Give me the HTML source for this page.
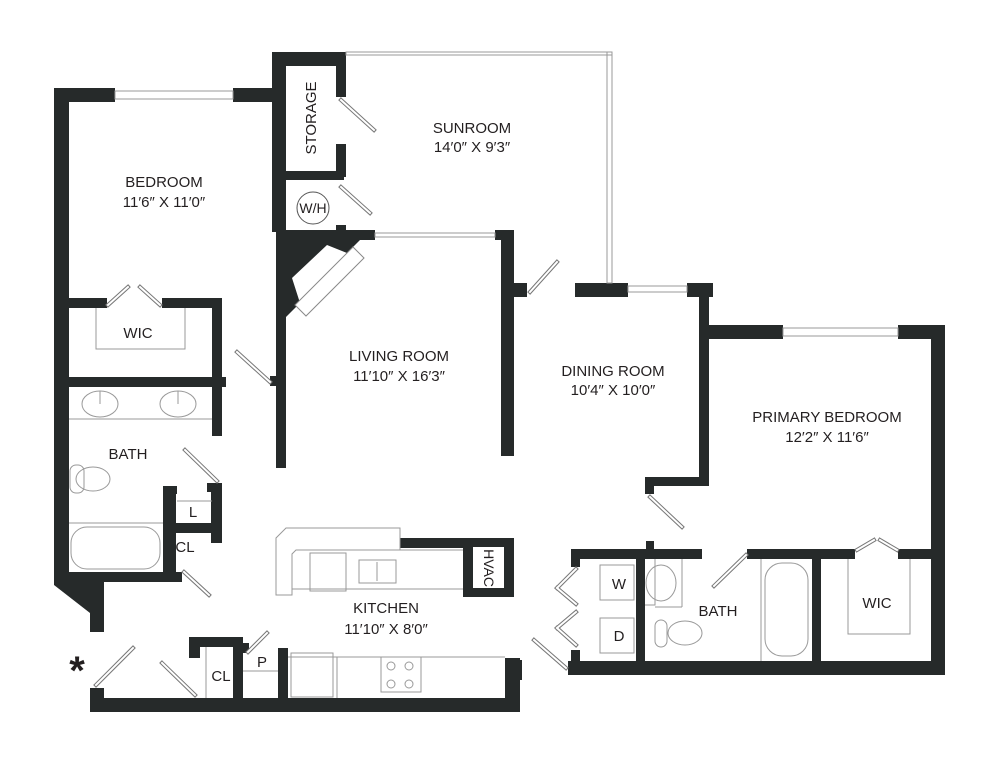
<!DOCTYPE html>
<html><head><meta charset="utf-8"><style>
html,body{margin:0;padding:0;background:#fff}
svg{display:block}
text{font-family:"Liberation Sans",sans-serif;font-size:15px;fill:#231f20;text-anchor:middle}
</style></head><body>
<svg width="1000" height="767" viewBox="0 0 1000 767" xmlns="http://www.w3.org/2000/svg">
<g fill="#262a2a">
<rect x="54" y="88" width="15" height="497"/>
<rect x="54" y="88" width="61" height="14"/>
<rect x="233" y="88" width="44" height="14"/>
<polygon points="54,580 104,580 104,632 90,632 90,613 54,585"/>
<rect x="272" y="52" width="74" height="14"/>
<rect x="272" y="52" width="14" height="180"/>
<rect x="276" y="52" width="10" height="416"/>
<rect x="336" y="52" width="10" height="45"/>
<rect x="336" y="144" width="10" height="33"/>
<rect x="286" y="171" width="58" height="9"/>
<rect x="336" y="225" width="10" height="8"/>
<rect x="286" y="230" width="89" height="10"/>
<polygon points="286,240 360,240 347,253 327,245 292,278 300,303 286,317"/>
<rect x="495" y="230" width="18" height="10"/>
<rect x="501" y="230" width="13" height="226"/>
<rect x="513" y="283" width="14" height="14"/>
<rect x="54" y="298" width="53" height="10"/>
<rect x="162" y="298" width="60" height="10"/>
<rect x="212" y="298" width="10" height="89"/>
<rect x="54" y="377" width="172" height="10"/>
<rect x="212" y="377" width="10" height="59"/>
<rect x="270" y="376" width="8" height="10"/>
<rect x="211" y="483" width="11" height="60"/>
<rect x="207" y="483" width="15" height="9"/>
<rect x="163" y="486" width="13" height="94"/>
<rect x="163" y="486" width="14" height="8"/>
<rect x="163" y="523" width="55" height="10"/>
<rect x="54" y="572" width="128" height="10"/>
<rect x="400" y="538" width="114" height="10"/>
<rect x="463" y="538" width="51" height="59"/>
<rect x="90" y="698" width="430" height="14"/>
<rect x="90" y="688" width="14" height="24"/>
<rect x="189" y="637" width="54" height="10"/>
<rect x="189" y="637" width="11" height="21"/>
<rect x="233" y="637" width="10" height="75"/>
<rect x="243" y="643" width="6" height="10"/>
<rect x="278" y="648" width="10" height="64"/>
<rect x="505" y="658" width="15" height="54"/>
<rect x="515" y="660" width="7" height="20"/>
<rect x="575" y="283" width="53" height="14"/>
<rect x="687" y="283" width="26" height="14"/>
<rect x="699" y="283" width="10" height="203"/>
<rect x="645" y="477" width="64" height="9"/>
<rect x="645" y="477" width="9" height="17"/>
<rect x="709" y="325" width="74" height="14"/>
<rect x="898" y="325" width="47" height="14"/>
<rect x="931" y="325" width="14" height="350"/>
<rect x="568" y="661" width="377" height="14"/>
<rect x="571" y="549" width="131" height="10"/>
<rect x="646" y="541" width="8" height="10"/>
<rect x="747" y="549" width="108" height="10"/>
<rect x="898" y="549" width="47" height="10"/>
<rect x="571" y="549" width="9" height="18"/>
<rect x="571" y="650" width="9" height="25"/>
<rect x="636" y="549" width="9" height="112"/>
<rect x="812" y="549" width="9" height="112"/>
</g>
<polygon points="353,247 364,258 306,316 295,305" fill="#fff" stroke="#888" stroke-width="1"/>
<g fill="none" stroke="#999" stroke-width="1">
<rect x="115" y="91" width="118" height="8"/>
<rect x="346" y="52" width="266" height="3"/>
<rect x="607" y="52" width="5" height="231"/>
<rect x="375" y="233" width="120" height="4"/>
<rect x="628" y="286" width="59" height="6"/>
<rect x="783" y="328" width="115" height="8"/>
<polyline points="96,308 96,349 185,349 185,308"/>
<line x1="69" y1="419" x2="212" y2="419"/>
<line x1="177" y1="501" x2="212" y2="501"/>
<line x1="69" y1="523" x2="163" y2="523"/>
<line x1="206" y1="647" x2="206" y2="698"/>
<line x1="243" y1="671" x2="278" y2="671"/>
<polyline points="848,559 848,634 910,634 910,559"/>
<polyline points="655,559 655,605 645,605"/>
<line x1="682" y1="559" x2="682" y2="607"/>
<line x1="682" y1="607" x2="655" y2="607"/>
<line x1="761" y1="559" x2="761" y2="661"/>
<polygon points="276,538 286,528 400,528 400,550 296,550 292,554 292,595 276,595"/>
<line x1="292" y1="589" x2="463" y2="589"/>
<line x1="296" y1="550" x2="463" y2="550"/>
<rect x="310" y="553" width="36" height="38"/>
<rect x="359" y="560" width="37" height="23"/>
<line x1="377" y1="562" x2="377" y2="581"/>
<line x1="288" y1="657" x2="505" y2="657"/>
<line x1="337" y1="657" x2="337" y2="698"/>
<rect x="291" y="653" width="42" height="44"/>
<rect x="381" y="657" width="40" height="35"/>
<circle cx="391" cy="666" r="4"/><circle cx="409" cy="666" r="4"/>
<circle cx="391" cy="684" r="4"/><circle cx="409" cy="684" r="4"/>
<ellipse cx="100" cy="404" rx="18" ry="13"/>
<ellipse cx="178" cy="404" rx="18" ry="13"/>
<line x1="100" y1="391" x2="100" y2="404"/>
<line x1="178" y1="391" x2="178" y2="404"/>
<rect x="71" y="527" width="89" height="42" rx="16"/>
<ellipse cx="93" cy="479" rx="17" ry="12"/>
<rect x="70" y="465" width="14" height="28" rx="6"/>
<ellipse cx="661" cy="583" rx="15" ry="18"/>
<ellipse cx="685" cy="633" rx="17" ry="12"/>
<rect x="655" y="620" width="12" height="27" rx="6"/>
<rect x="765" y="563" width="43" height="93" rx="17"/>
<rect x="600" y="565" width="34" height="35"/>
<rect x="600" y="618" width="34" height="35"/>
<circle cx="313" cy="208" r="16" stroke="#555"/>
</g>
<rect x="473" y="547" width="31" height="41" fill="#fff"/>
<g stroke="#777" stroke-width="4" stroke-linecap="square">
<line x1="341" y1="100" x2="374" y2="130"/>
<line x1="341" y1="187" x2="370" y2="213"/>
<line x1="237" y1="352" x2="270" y2="382"/>
<line x1="108" y1="305" x2="128" y2="287"/>
<line x1="140" y1="287" x2="160" y2="305"/>
<line x1="185" y1="450" x2="217" y2="481"/>
<line x1="184" y1="572" x2="209" y2="595"/>
<line x1="96" y1="685" x2="133" y2="648"/>
<line x1="162" y1="663" x2="195" y2="695"/>
<line x1="248" y1="652" x2="267" y2="633"/>
<line x1="530" y1="292" x2="557" y2="262"/>
<line x1="650" y1="497" x2="682" y2="527"/>
<line x1="714" y1="586" x2="746" y2="555"/>
<line x1="857" y1="550" x2="874" y2="540"/>
<line x1="880" y1="540" x2="897" y2="550"/>
<line x1="557" y1="588" x2="576" y2="569"/>
<line x1="557" y1="588" x2="576" y2="604"/>
<line x1="557" y1="628" x2="576" y2="612"/>
<line x1="557" y1="628" x2="576" y2="645"/>
<line x1="534" y1="640" x2="566" y2="668"/>
</g>
<g stroke="#fff" stroke-width="2" stroke-linecap="square">
<line x1="341" y1="100" x2="374" y2="130"/>
<line x1="341" y1="187" x2="370" y2="213"/>
<line x1="237" y1="352" x2="270" y2="382"/>
<line x1="108" y1="305" x2="128" y2="287"/>
<line x1="140" y1="287" x2="160" y2="305"/>
<line x1="185" y1="450" x2="217" y2="481"/>
<line x1="184" y1="572" x2="209" y2="595"/>
<line x1="96" y1="685" x2="133" y2="648"/>
<line x1="162" y1="663" x2="195" y2="695"/>
<line x1="248" y1="652" x2="267" y2="633"/>
<line x1="530" y1="292" x2="557" y2="262"/>
<line x1="650" y1="497" x2="682" y2="527"/>
<line x1="714" y1="586" x2="746" y2="555"/>
<line x1="857" y1="550" x2="874" y2="540"/>
<line x1="880" y1="540" x2="897" y2="550"/>
<line x1="557" y1="588" x2="576" y2="569"/>
<line x1="557" y1="588" x2="576" y2="604"/>
<line x1="557" y1="628" x2="576" y2="612"/>
<line x1="557" y1="628" x2="576" y2="645"/>
<line x1="534" y1="640" x2="566" y2="668"/>
</g>
<text x="164" y="187">BEDROOM</text>
<text x="164" y="207">11′6″ X 11′0″</text>
<text x="472" y="133">SUNROOM</text>
<text x="472" y="152">14′0″ X 9′3″</text>
<text x="399" y="361">LIVING ROOM</text>
<text x="399" y="381">11′10″ X 16′3″</text>
<text x="613" y="376">DINING ROOM</text>
<text x="613" y="395">10′4″ X 10′0″</text>
<text x="827" y="422">PRIMARY BEDROOM</text>
<text x="827" y="442">12′2″ X 11′6″</text>
<text x="128" y="459">BATH</text>
<text x="718" y="616">BATH</text>
<text x="138" y="338">WIC</text>
<text x="877" y="608">WIC</text>
<text x="386" y="613">KITCHEN</text>
<text x="386" y="634">11′10″ X 8′0″</text>
<text x="185" y="552">CL</text>
<text x="193" y="517">L</text>
<text x="221" y="681">CL</text>
<text x="262" y="667">P</text>
<text x="619" y="589">W</text>
<text x="619" y="641">D</text>
<text x="313" y="213" style="font-size:14px">W/H</text>
<text transform="translate(316,118) rotate(-90)">STORAGE</text>
<text transform="translate(484,568) rotate(90)" style="font-size:14px">HVAC</text>
<text x="77" y="684" style="font-size:40px;font-weight:bold">*</text>
</svg>
</body></html>
